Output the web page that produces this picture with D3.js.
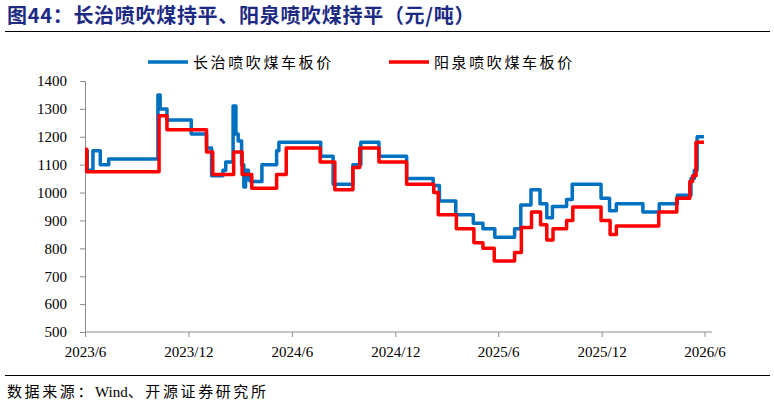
<!DOCTYPE html>
<html>
<head>
<meta charset="utf-8">
<script src="https://cdn.jsdelivr.net/npm/d3@7"></script>
<style>
  body { margin: 0; background: #fff; }
  svg text { fill: #000; }
  .axis path, .axis line { stroke: #8c8c8c; }
</style>
</head>
<body>
<div id="chart"></div>
<script>
// 长治 / 阳泉 喷吹煤车板价 (元/吨) - 阶梯线
const seriesNames = ['长治喷吹煤车板价', '阳泉喷吹煤车板价'];

// 长治: 价格变动点 (日期, 价格)
const changzhiDates = ['2023-06-01','2023-06-05','2023-06-15','2023-06-28','2023-07-13','2023-10-08','2023-10-12','2023-10-24',
  '2023-12-06','2024-01-02','2024-01-11','2024-01-31','2024-02-05','2024-02-18','2024-02-23','2024-02-27','2024-03-04',
  '2024-03-08','2024-03-11','2024-03-16','2024-03-20','2024-04-09','2024-05-05','2024-05-09','2024-07-22','2024-08-13',
  '2024-09-17','2024-10-01','2024-11-02','2024-12-21','2025-02-06','2025-02-17','2025-03-18','2025-04-18','2025-05-05',
  '2025-05-26','2025-06-30','2025-07-11','2025-07-29','2025-08-14','2025-08-26','2025-09-05','2025-09-30','2025-10-10',
  '2025-11-30','2025-12-15','2025-12-27','2026-02-12','2026-03-13','2026-04-14','2026-05-08','2026-05-14','2026-05-19','2026-05-31'];
const changzhiValues = [1150,1080,1150,1100,1120,1350,1300,1260,
  1210,1160,1060,1080,1110,1310,1210,1185,1100,
  1020,1080,1045,1040,1100,1150,1180,1130,1030,
  1100,1180,1130,1050,1025,970,920,890,870,
  840,870,955,1010,960,910,950,975,1030,
  980,935,960,930,960,990,1050,1080,1200,1200];

// 阳泉: 价格变动点
const yangquanDates = ['2023-06-01','2023-06-04','2023-10-10','2023-10-24','2024-01-02','2024-01-13','2024-02-19','2024-03-05',
  '2024-03-22','2024-05-05','2024-05-22','2024-07-21','2024-08-16','2024-09-17','2024-09-29','2024-11-02','2024-12-21',
  '2025-02-07','2025-02-15','2025-03-19','2025-04-19','2025-05-05','2025-05-25','2025-06-30','2025-07-12','2025-07-30',
  '2025-08-15','2025-08-26','2025-09-06','2025-09-30','2025-10-11','2025-11-30','2025-12-16','2025-12-27','2026-03-12',
  '2026-04-13','2026-05-06','2026-05-11','2026-05-17','2026-05-31'];
const yangquanValues = [1155,1075,1275,1225,1145,1065,1145,1065,
  1015,1065,1160,1110,1010,1090,1160,1110,1030,
  1000,920,870,820,800,755,785,875,930,
  885,830,870,900,948,900,850,880,930,
  980,1040,1060,1180,1180];

const yTicks = [500, 600, 700, 800, 900, 1000, 1100, 1200, 1300, 1400];
const xTickDates = ['2023-06-01','2023-12-01','2024-06-01','2024-12-01','2025-06-01','2025-12-01','2026-06-01'];

const W = 774, H = 405;
const parse = d3.timeParse('%Y-%m-%d');
const serif = '"Liberation Serif", "Times New Roman", "Noto Sans CJK SC", serif';
const cjk = '"Noto Sans CJK SC", sans-serif';

const svg = d3.select('#chart').append('svg')
  .attr('width', W).attr('height', H);

// titolo
svg.append('text')
  .attr('x', 7).attr('y', 23)
  .attr('font-family', cjk).attr('font-weight', 'bold')
  .attr('font-size', 20)
  .attr('letter-spacing', 0.7)
  .style('fill', '#1c2a83')
  .text('图44：长治喷吹煤持平、阳泉喷吹煤持平（元/吨）');

svg.append('line').attr('x1', 5).attr('x2', 770).attr('y1', 31.5).attr('y2', 31.5)
  .attr('stroke', '#000').attr('stroke-width', 1);

// scale
const x = d3.scaleTime()
  .domain([parse('2023-06-01'), parse('2026-06-01')])
  .range([85, 704.5]);
const y = d3.scaleLinear().domain([500, 1400]).range([332, 81]);

// assi
const xAxis = svg.append('g')
  .attr('class', 'axis')
  .attr('transform', 'translate(0,332)')
  .call(d3.axisBottom(x)
    .tickValues(xTickDates.map(parse))
    .tickFormat(d3.timeFormat('%Y/%-m'))
    .tickSize(5).tickSizeOuter(0));
xAxis.select('.domain').attr('d', 'M85,0H712');
xAxis.selectAll('text')
  .attr('font-family', serif).attr('font-size', 15)
  .attr('dy', null).attr('y', 25);

const yAxis = svg.append('g')
  .attr('class', 'axis')
  .attr('transform', 'translate(85,0)')
  .call(d3.axisLeft(y).tickValues(yTicks).tickFormat(d3.format('d'))
    .tickSize(5).tickSizeOuter(0).tickPadding(13));
yAxis.selectAll('text')
  .attr('font-family', serif).attr('font-size', 15);
svg.selectAll('.axis text').style('fill', '#000');

// linee
const line = d3.line()
  .x(d => x(d.date))
  .y(d => y(d.value))
  .curve(d3.curveStepAfter);

const toPoints = (dates, values) => dates.map((d, i) => ({ date: parse(d), value: values[i] }));

const series = [
  { name: seriesNames[0], color: '#0070c0', points: toPoints(changzhiDates, changzhiValues) },
  { name: seriesNames[1], color: '#ff0000', points: toPoints(yangquanDates, yangquanValues) }
];

svg.selectAll('.series')
  .data(series)
  .join('path')
  .attr('class', 'series')
  .attr('fill', 'none')
  .attr('stroke', d => d.color)
  .attr('stroke-width', 3.5)
  .attr('stroke-linejoin', 'round')
  .attr('d', d => line(d.points));

// legenda
const legendX = [148, 389];
const legend = svg.selectAll('.legend-item')
  .data(series)
  .join('g')
  .attr('class', 'legend-item')
  .attr('transform', (d, i) => `translate(${legendX[i]},62)`);
legend.append('line')
  .attr('x1', 0).attr('x2', 40)
  .attr('stroke', d => d.color).attr('stroke-width', 3.5);
legend.append('text')
  .attr('x', 45).attr('y', 5.5)
  .attr('font-family', cjk).attr('font-size', 15)
  .attr('letter-spacing', 2.6)
  .text(d => d.name);

// fonte
svg.append('line').attr('x1', 5).attr('x2', 770).attr('y1', 375.5).attr('y2', 375.5)
  .attr('stroke', '#000').attr('stroke-width', 1);
const source = svg.append('text')
  .attr('x', 7).attr('y', 397)
  .attr('font-family', serif).attr('font-size', 15);
source.append('tspan').attr('letter-spacing', 2.6).text('数据来源：');
source.append('tspan').text('Wind');
source.append('tspan').attr('letter-spacing', 2.6).text('、开源证券研究所');
</script>
</body>
</html>
